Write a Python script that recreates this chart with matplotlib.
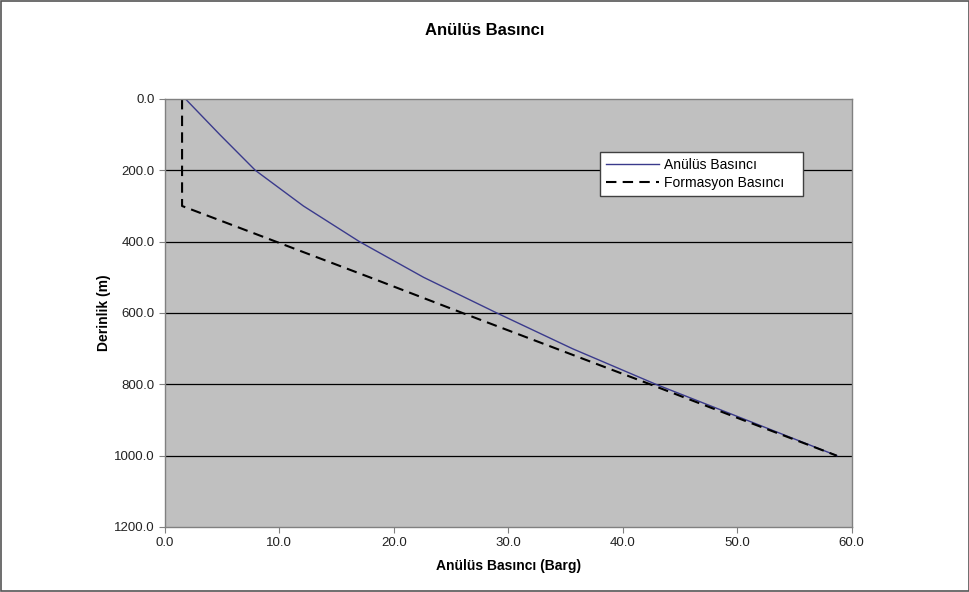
import matplotlib
matplotlib.use("Agg")
from matplotlib import pyplot as plt
from matplotlib.patches import Rectangle

plt.rcParams["font.family"] = ["Liberation Sans", "DejaVu Sans"]

# depth (m) and pressures (barg)
depth = [0, 100, 200, 300, 400, 500, 600, 700, 800, 900, 1000]
annulus = [1.8, 4.8, 7.9, 12.1, 17.0, 22.6, 29.0, 35.6, 42.9, 50.8, 58.7]

form_depth = [0, 300, 400, 500, 600, 700, 800, 900, 1000]
formation = [1.5, 1.5, 9.7, 17.9, 26.0, 34.2, 42.4, 50.5, 58.7]

x_ticks = [0, 10, 20, 30, 40, 50, 60]
y_ticks = [0, 200, 400, 600, 800, 1000, 1200]

fig = plt.figure(figsize=(9.70, 5.92), dpi=100)
ax = fig.add_axes([0.170, 0.1098, 0.708, 0.723])
ax.set_facecolor("#C0C0C0")

ax.plot(annulus, depth, color="#3A3A8C", linewidth=1.0, label="Anülüs Basıncı")
ax.plot(formation, form_depth, color="black", linewidth=1.5, linestyle=(0, (5, 3)),
        label="Formasyon Basıncı")

ax.set_xlim(0, 60)
ax.set_ylim(1200, 0)
ax.set_xticks(x_ticks)
ax.set_yticks(y_ticks)
ax.set_xticklabels([f"{v:.1f}" for v in x_ticks])
ax.set_yticklabels([f"{v:.1f}" for v in y_ticks])
ax.tick_params(direction="out", length=4, color="#808080", labelsize=9.5,
               labelcolor="#222222")

for yv in y_ticks[1:-1]:
    ax.axhline(yv, color="black", linewidth=0.9, zorder=1)

for s in ax.spines.values():
    s.set_color("#808080")
    s.set_linewidth(1.0)

ax.set_xlabel("Anülüs Basıncı (Barg)", fontsize=10, fontweight="bold", labelpad=7)
ax.set_ylabel("Derinlik (m)", fontsize=10, fontweight="bold", labelpad=2)
fig.text(0.5, 0.948, "Anülüs Basıncı", ha="center", va="center", fontsize=12,
         fontweight="bold")

# legend box stretched to the width seen in the reference
leg = ax.legend(loc="upper left", bbox_to_anchor=(0.633, 0.778, 0.296, 0.098),
                mode="expand", fontsize=10, frameon=True, fancybox=False,
                framealpha=1, edgecolor="#404040", handlelength=3.8,
                handletextpad=0.4, borderpad=0.45, labelspacing=0.25,
                borderaxespad=0)
leg.get_frame().set_linewidth(1.0)

fig.patches.append(Rectangle((0.001, 0.001), 0.998, 0.998, transform=fig.transFigure,
                             fill=False, edgecolor="#555555", linewidth=1.2))

fig.savefig("out.png", dpi=100)
